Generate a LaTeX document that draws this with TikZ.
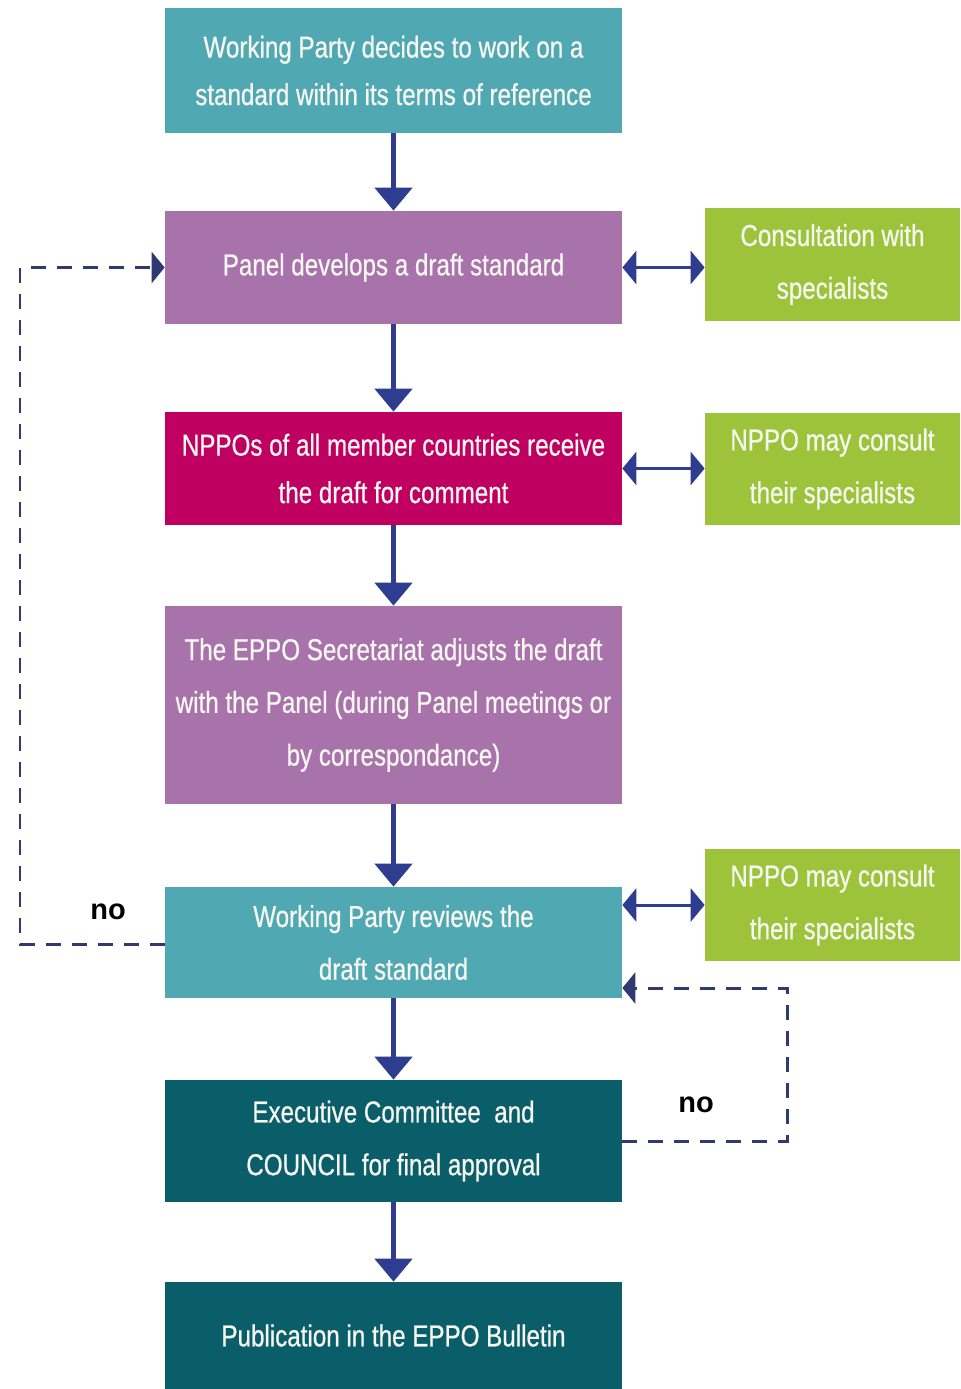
\documentclass[tikz,border=0pt]{standalone}
\usepackage{fontspec}
\setmainfont[FakeStretch=0.80,FakeBold=0.7]{Liberation Sans}
\newfontfamily\labelfont{Liberation Sans}
\usetikzlibrary{arrows.meta,positioning}
\definecolor{eppoteal}{RGB}{80,168,178}
\definecolor{eppopurple}{RGB}{168,114,170}
\definecolor{eppomagenta}{RGB}{192,0,96}
\definecolor{eppodark}{RGB}{10,94,106}
\definecolor{eppogreen}{RGB}{157,195,59}
\definecolor{eppoarrow}{RGB}{46,61,143}
\definecolor{eppodash}{RGB}{48,58,112}
\definecolor{eppotext}{RGB}{246,246,240}
\tikzset{
  stagebox/.style={rectangle,draw=none,minimum width=9.14cm,inner sep=2pt,align=center,text=eppotext,
    font=\fontsize{17.2}{27}\selectfont},
  sidebox/.style={rectangle,draw=none,fill=eppogreen,minimum width=5.1cm,minimum height=2.25cm,inner sep=2pt,
    align=center,text=eppotext,font=\fontsize{17.2}{30}\selectfont},
  flowarrow/.style={-{Triangle[length=4.6mm,width=7.4mm]},line width=2.8pt,draw=eppoarrow},
  linkarrow/.style={{Triangle[length=2.8mm,width=6.6mm]}-{Triangle[length=2.8mm,width=6.6mm]},line width=1.7pt,draw=eppoarrow},
  loopline/.style={-{Triangle[length=2.6mm,width=6.2mm]},line width=1.7pt,draw=eppodash,dash pattern=on 3mm off 2.2mm},
  nolabel/.style={font=\labelfont\fontsize{16.5}{20}\selectfont\bfseries,text=black}
}

\begin{document}
\begin{tikzpicture}
  \useasboundingbox (0,0) rectangle (19.2,-27.78);
  \node[stagebox,fill=eppoteal,minimum height=2.5cm] (decide) at (7.87,-1.41)
    {Working Party decides to work on a\\standard within its terms of reference};
  \node[stagebox,fill=eppopurple,minimum height=2.26cm] (panel) at (7.87,-5.35)
    {Panel develops a draft standard};
  \node[stagebox,fill=eppomagenta,minimum height=2.26cm] (nppos) at (7.87,-9.37)
    {NPPOs of all member countries receive\\the draft for comment};
  \node[stagebox,fill=eppopurple,minimum height=3.96cm,font=\fontsize{17.2}{30}\selectfont] (adjust) at (7.87,-14.10)
    {The EPPO Secretariat adjusts the draft\\with the Panel (during Panel meetings or\\by correspondance)};
  \node[stagebox,fill=eppoteal,minimum height=2.22cm,font=\fontsize{17.2}{30}\selectfont] (review) at (7.87,-18.85)
    {Working Party reviews the\\draft standard};
  \node[stagebox,fill=eppodark,minimum height=2.44cm,font=\fontsize{17.2}{30}\selectfont] (approve) at (7.87,-22.82)
    {Executive Committee~ and\\COUNCIL for final approval};
  \node[stagebox,fill=eppodark,minimum height=2.14cm] (publish) at (7.87,-26.71)
    {Publication in the EPPO Bulletin};
  \node[sidebox] (consult) at (16.65,-5.29) {Consultation with\\specialists};
  \node[sidebox] (npposp) at (16.65,-9.38) {NPPO may consult\\their specialists};
  \node[sidebox] (reviewsp) at (16.65,-18.10) {NPPO may consult\\their specialists};
  \draw[flowarrow] (decide) -- (panel);
  \draw[flowarrow] (panel) -- (nppos);
  \draw[flowarrow] (nppos) -- (adjust);
  \draw[flowarrow] (adjust) -- (review);
  \draw[flowarrow] (review) -- (approve);
  \draw[flowarrow] (approve) -- (publish);
  \draw[linkarrow] (panel.east) -- (panel.east -| consult.west);
  \draw[linkarrow] (nppos.east) -- (nppos.east -| npposp.west);
  \draw[linkarrow] (reviewsp.west -| review.east) -- (reviewsp.west);
  % loops back when the answer is no
  \coordinate (leftrun) at (0.4,-18.88);
  \coordinate (rightrun) at (15.74,-19.76);
  \draw[loopline] (review.west |- leftrun) -- (leftrun) |- (panel.west);
  \draw[loopline] (approve.east) -| (rightrun) -- (rightrun -| review.east);
  \node[nolabel] (noleft) at (2.16,-18.24) {no};
  \node[nolabel] (noright) at (13.92,-22.10) {no};
\end{tikzpicture}
\end{document}
